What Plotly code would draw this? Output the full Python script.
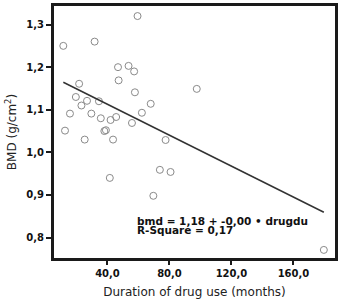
import plotly.graph_objects as go

# Data (duration in months, BMD in g/cm²)
duration = [11.5, 31.7, 59.4, 46.8, 53.6, 57.2, 47.2, 57.7, 97.6, 21.7,
            19.6, 26.8, 23.2, 34.5, 15.8, 29.6, 35.7, 42.0, 45.6, 12.6,
            38.0, 39.0, 25.3, 43.6, 67.9, 62.2, 55.8, 77.5, 41.5, 73.8,
            80.7, 69.6, 179.6]
bmd = [1.250, 1.260, 1.320, 1.200, 1.203, 1.190, 1.169, 1.141, 1.149, 1.161,
       1.130, 1.121, 1.110, 1.120, 1.091, 1.091, 1.080, 1.076, 1.083, 1.051,
       1.050, 1.052, 1.030, 1.030, 1.114, 1.093, 1.069, 1.029, 0.940, 0.959,
       0.954, 0.898, 0.771]

intercept = 1.1854
slope = -0.001815

x_ticks = [40, 80, 120, 160]
x_tick_text = ["40,0", "80,0", "120,0", "160,0"]
y_ticks = [0.8, 0.9, 1.0, 1.1, 1.2, 1.3]
y_tick_text = ["0,8", "0,9", "1,0", "1,1", "1,2", "1,3"]

eq_text = "bmd = 1,18 + -0,00 • drugdu"
r2_text = "R-Square = 0,17"

x_line = [min(duration), max(duration)]
y_line = [intercept + slope * v for v in x_line]

fig = go.Figure()
fig.add_trace(go.Scatter(
    x=duration, y=bmd, mode="markers",
    marker=dict(symbol="circle-open", size=7, color="#8a8a8a", line=dict(width=1)),
    showlegend=False, hoverinfo="skip"))
fig.add_trace(go.Scatter(
    x=x_line, y=y_line, mode="lines",
    line=dict(color="#333333", width=1.5),
    showlegend=False, hoverinfo="skip"))

fig.add_annotation(x=0.291, y=0.146, xref="paper", yref="paper",
                   text=eq_text, showarrow=False, xanchor="left", yanchor="middle",
                   borderpad=0,
                   font=dict(family="DejaVu Sans", size=10.5, color="#111111", weight="bold"))
fig.add_annotation(x=0.291, y=0.110, xref="paper", yref="paper",
                   text=r2_text, showarrow=False, xanchor="left", yanchor="middle",
                   borderpad=0,
                   font=dict(family="DejaVu Sans", size=10.5, color="#111111", weight="bold"))

fig.update_layout(
    width=341, height=303,
    margin=dict(l=54, r=3, t=4, b=45),
    paper_bgcolor="white", plot_bgcolor="white",
    font=dict(family="DejaVu Sans", color="#111111"),
    xaxis=dict(
        range=[5.5, 186.8], tickvals=x_ticks, ticktext=x_tick_text,
        ticks="outside", ticklen=4, tickwidth=2, tickcolor="#1a1a1a",
        showline=True, linewidth=3, linecolor="#1a1a1a", mirror=True,
        showgrid=False, zeroline=False,
        tickfont=dict(family="DejaVu Sans", size=10, weight="bold", color="#111111"),
        title=dict(text="Duration of drug use (months)",
                   font=dict(family="DejaVu Sans", size=12, color="#222222"),
                   standoff=10),
    ),
    yaxis=dict(
        range=[0.752, 1.3436], tickvals=y_ticks, ticktext=y_tick_text,
        ticks="outside", ticklen=5, tickwidth=2, tickcolor="#1a1a1a",
        showline=True, linewidth=3, linecolor="#1a1a1a", mirror=True,
        showgrid=False, zeroline=False,
        tickfont=dict(family="DejaVu Sans", size=10, weight="bold", color="#111111"),
        title=dict(text="BMD (g/cm<sup>2</sup>)",
                   font=dict(family="DejaVu Sans", size=12, color="#222222"),
                   standoff=8),
    ),
)

fig.write_html("out.html")
